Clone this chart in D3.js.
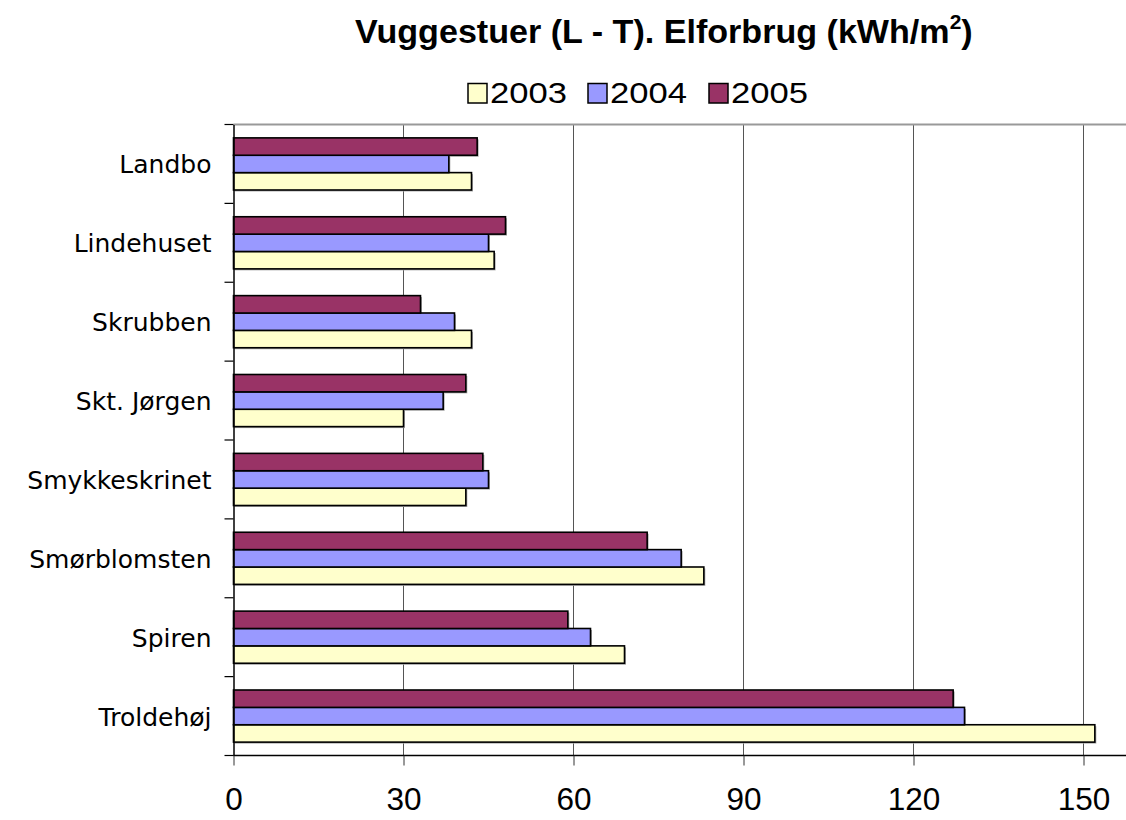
<!DOCTYPE html>
<html>
<head>
<meta charset="utf-8">
<script src="https://cdn.jsdelivr.net/npm/d3@7.9.0/dist/d3.min.js"></script>
<style>
  body { margin: 0; background: #fff; }
  svg { display: block; font-family: Arial, "Liberation Sans", sans-serif; }
</style>
</head>
<body>
<svg id="chart" width="1126" height="820"></svg>
<script>
// ---------- Data ----------
const categories = ["Landbo", "Lindehuset", "Skrubben", "Skt. Jørgen", "Smykkeskrinet", "Smørblomsten", "Spiren", "Troldehøj"];
const years = ["2003", "2004", "2005"];
const values2003 = [42, 46, 42, 30, 41, 83, 69, 152];
const values2004 = [38, 45, 39, 37, 45, 79, 63, 129];
const values2005 = [43, 48, 33, 41, 44, 73, 59, 127];
const xTicks = [0, 30, 60, 90, 120, 150];

const seriesValues = { "2003": values2003, "2004": values2004, "2005": values2005 };
const colors = { "2003": "#FFFFCC", "2004": "#9999FF", "2005": "#993366" };

// ---------- Layout ----------
const svg = d3.select("#chart");
const plotLeft = 233.5, plotTop = 124.5, plotBottom = 755.5;

const x = d3.scaleLinear().domain([0, 160]).range([plotLeft, plotLeft + 160 * (170 / 30)]);
const y = d3.scaleBand().domain(categories).range([plotTop, plotBottom]);
// bars inside a band: 2005 on top, 2003 at the bottom
const inner = d3.scaleBand().domain(["2005", "2004", "2003"])
  .range([0, y.bandwidth()]).paddingInner(0).paddingOuter(0.77);

// stretch a text node horizontally so it spans `w` px, keeping its left edge
function fitWidth(sel, w) {
  const bb = sel.node().getBBox();
  const k = w / bb.width;
  sel.attr("transform", `translate(${bb.x * (1 - k)},0) scale(${k},1)`);
}

// ---------- Gridlines ----------
svg.append("g")
  .selectAll("line")
  .data(xTicks.slice(1))
  .join("line")
  .attr("x1", d => x(d)).attr("x2", d => x(d))
  .attr("y1", plotTop).attr("y2", plotBottom)
  .attr("stroke", "#555").attr("stroke-width", 1);

// top border of plot area
svg.append("line")
  .attr("x1", plotLeft).attr("x2", 1126)
  .attr("y1", plotTop).attr("y2", plotTop)
  .attr("stroke", "#999").attr("stroke-width", 2);

// ---------- Bars ----------
const rows = categories.flatMap((c, i) =>
  years.map(yr => ({ cat: c, year: yr, value: seriesValues[yr][i] })));

// soft shadow
svg.append("g")
  .selectAll("rect")
  .data(rows)
  .join("rect")
  .attr("x", x(0) + 1)
  .attr("y", d => y(d.cat) + inner(d.year) + 1.5)
  .attr("width", d => x(d.value) - x(0) + 0.5)
  .attr("height", inner.bandwidth())
  .attr("fill", "#aaa");

svg.append("g")
  .selectAll("rect")
  .data(rows)
  .join("rect")
  .attr("x", x(0))
  .attr("y", d => y(d.cat) + inner(d.year))
  .attr("width", d => x(d.value) - x(0))
  .attr("height", inner.bandwidth())
  .attr("fill", d => colors[d.year])
  .attr("stroke", "#000").attr("stroke-width", 1.6);

// ---------- Axes ----------
const xAxis = d3.axisBottom(x).tickValues(xTicks).tickSize(10).tickFormat(d3.format("d")).tickPadding(22);
const gx = svg.append("g").attr("transform", `translate(0,${plotBottom})`).call(xAxis);
gx.select(".domain").attr("d", `M${plotLeft},0H1126`).attr("stroke", "#000").attr("stroke-width", 1.5);
gx.selectAll(".tick line").attr("stroke", "#333");
gx.selectAll(".tick text").attr("font-size", 31.5).attr("fill", "#000")
  .attr("font-family", "Arial, 'Liberation Sans', sans-serif");

// left axis, labels centred on each band
const yAxis = d3.axisLeft(y).tickSize(0).tickPadding(22);
const gy = svg.append("g").attr("transform", `translate(${plotLeft},0)`).call(yAxis);
gy.select(".domain").attr("stroke", "#000").attr("stroke-width", 1.5);
gy.selectAll(".tick text").attr("font-size", 25).attr("fill", "#000").attr("dy", "0.38em")
  .attr("font-family", "'DejaVu Sans', Verdana, sans-serif");

// small tick marks at the band boundaries
svg.append("g")
  .selectAll("line")
  .data(d3.range(categories.length + 1))
  .join("line")
  .attr("x1", plotLeft - 9).attr("x2", plotLeft)
  .attr("y1", i => plotTop + i * y.step()).attr("y2", i => plotTop + i * y.step())
  .attr("stroke", "#000").attr("stroke-width", 1.2);

// ---------- Title ----------
const title = svg.append("text")
  .attr("x", 355).attr("y", 43.5)
  .attr("font-size", 32.5).attr("font-weight", "bold");
title.append("tspan").text("Vuggestuer (L - T). Elforbrug (kWh/m");
title.append("tspan").attr("font-size", 20).attr("dy", -14).text("2");
title.append("tspan").attr("dy", 14).text(")");
fitWidth(title, 618);

// ---------- Legend ----------
const legendX = [468, 588, 709];
const legend = svg.append("g");
years.forEach((yr, i) => {
  legend.append("rect")
    .attr("x", legendX[i]).attr("y", 83.5)
    .attr("width", 19).attr("height", 19.5)
    .attr("fill", colors[yr]).attr("stroke", "#000").attr("stroke-width", 1.5);
  const t = legend.append("text")
    .attr("x", legendX[i] + 22).attr("y", 103.5)
    .attr("font-size", 30)
    .text(yr);
  fitWidth(t, 77);
});
</script>
</body>
</html>
